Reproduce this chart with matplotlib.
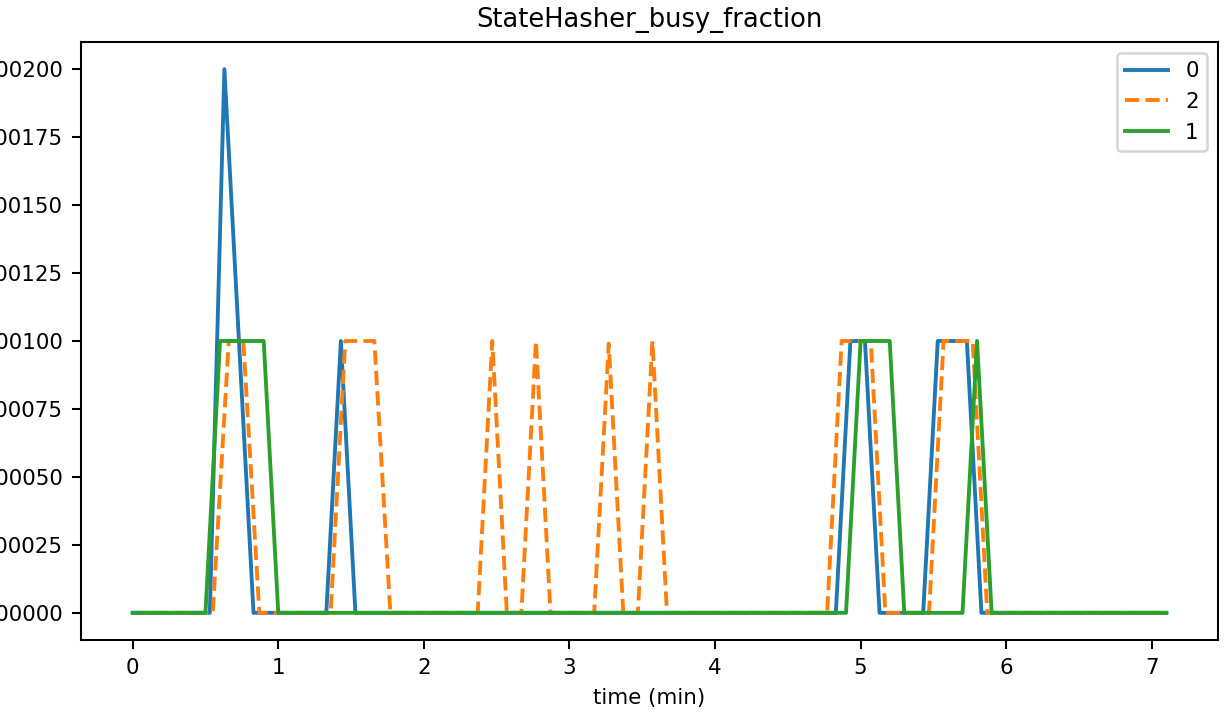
import matplotlib
matplotlib.use("Agg")
import matplotlib.pyplot as plt

# --- dados (tempo em minutos) ---
t_0 = [0, 0.53, 0.63, 0.73, 0.83, 1.33, 1.43, 1.53,
       4.83, 4.93, 5.03, 5.13, 5.43, 5.53, 5.63, 5.73, 5.83, 7.1]
v_0 = [0, 0, 0.002, 0.001, 0, 0, 0.001, 0,
       0, 0.001, 0.001, 0, 0, 0.001, 0.001, 0.001, 0, 0]

t_2 = [0, 0.55, 0.66, 0.76, 0.87, 1.36, 1.46, 1.56, 1.66, 1.77,
       2.37, 2.47, 2.57, 2.67, 2.77, 2.87, 3.17, 3.27, 3.37, 3.47, 3.57, 3.67,
       4.77, 4.87, 4.97, 5.07, 5.17, 5.47, 5.57, 5.67, 5.77, 5.87, 7.1]
v_2 = [0, 0, 0.001, 0.001, 0, 0, 0.001, 0.001, 0.001, 0,
       0, 0.001, 0, 0, 0.001, 0, 0, 0.00099, 0, 0, 0.001, 0,
       0, 0.001, 0.001, 0.001, 0, 0, 0.001, 0.001, 0.001, 0, 0]

t_1 = [0, 0.5, 0.6, 0.7, 0.8, 0.9, 1.0,
       4.9, 5.0, 5.1, 5.2, 5.3, 5.7, 5.8, 5.9, 7.1]
v_1 = [0, 0, 0.001, 0.001, 0.001, 0.001, 0,
       0, 0.001, 0.001, 0.001, 0, 0, 0.001, 0, 0]

TITULO = "StateHasher_busy_fraction"
# ---------------------------------------------------

DPI = 185
W, H = 1226, 726
plt.rcParams['font.size'] = 8.3

fig = plt.figure(figsize=(W / DPI, H / DPI), dpi=DPI)
# posição dos eixos em pixels: esquerda 81, direita 1218, topo 42, base 640
ax = fig.add_axes([81 / W, (H - 640) / H, (1218 - 81) / W, (640 - 42) / H])

ax.plot(t_0, v_0, color='C0', label='0')
ax.plot(t_2, v_2, color='C1', linestyle='--', label='2')
ax.plot(t_1, v_1, color='C2', label='1')

ax.set_title(TITULO, fontsize=10)
ax.set_xlabel("time (min)")
ax.legend(loc='upper right')

fig.savefig("out.png", dpi=DPI)
plt.close(fig)
